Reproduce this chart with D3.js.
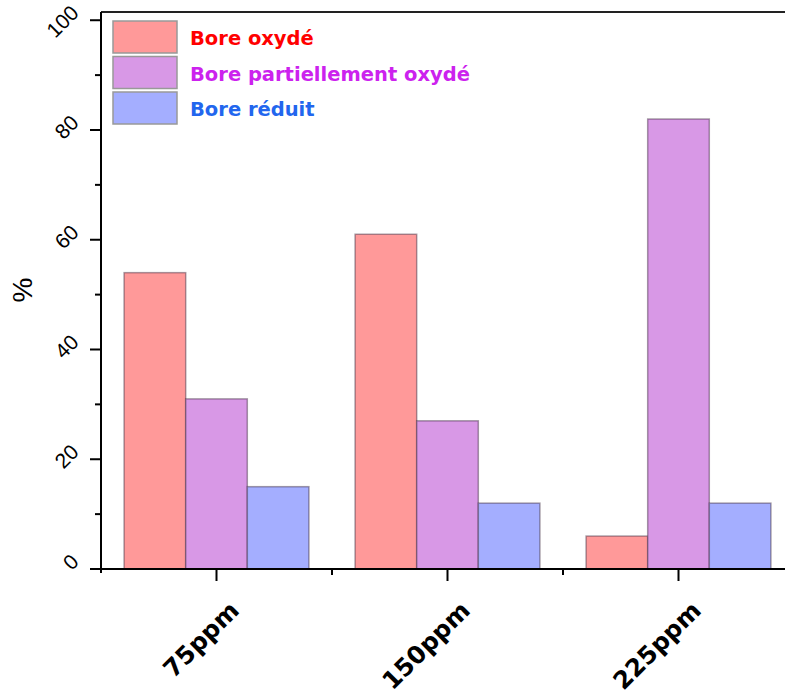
<!DOCTYPE html>
<html lang="fr">
<head>
<meta charset="utf-8">
<title>Bore</title>
<script src="https://d3js.org/d3.v7.min.js"></script>
<style>
  body{margin:0;background:#fff;}
  svg{display:block;}
</style>
</head>
<body>
<div id="chart"></div>
<script>
// data
var categories = ["75ppm", "150ppm", "225ppm"]
var series = ["Bore oxydé", "Bore partiellement oxydé", "Bore réduit"]
var oxyde = [54, 61, 6]
var partiel = [31, 27, 82]
var reduit = [15, 12, 12]
var yTicks = [0, 20, 40, 60, 80, 100]
var yMinor = [10, 30, 50, 70, 90]

var fills = ["#ff9999", "#d898e6", "#a4aeff"]
var textColors = ["#ff0000", "#cc22ee", "#2266ee"]

var w = 785, h = 693
var plotL = 101, plotB = 569, plotT = 12

var values = [oxyde, partiel, reduit]

var svg = d3.select("#chart").append("svg")
  .attr("width", w).attr("height", h)

var x = d3.scaleBand().domain(categories).range([plotL, plotL + 231 * 3]).paddingInner(0).paddingOuter(0)
// each group: 3 bars filling 80% of the category
var xs = d3.scaleBand().domain(series).range([0, x.bandwidth()]).paddingOuter(0.375).paddingInner(0)
var y = d3.scaleLinear().domain([0, 101.5]).range([plotB, plotT])

// top frame line
svg.append("line")
  .attr("x1", plotL).attr("x2", w).attr("y1", plotT).attr("y2", plotT)
  .attr("stroke", "#222").attr("stroke-width", 2)

// bars
var groups = svg.selectAll("g.grp")
  .data(categories)
  .enter().append("g")
  .attr("class", "grp")
  .attr("transform", function(d){ return "translate(" + x(d) + ",0)" })

groups.selectAll("rect")
  .data(function(d, i){
    return series.map(function(s, j){ return {s: s, v: values[j][i], j: j} })
  })
  .enter().append("rect")
  .attr("x", function(d){ return xs(d.s) })
  .attr("y", function(d){ return y(d.v) })
  .attr("width", xs.bandwidth())
  .attr("height", function(d){ return plotB - y(d.v) })
  .attr("fill", function(d){ return fills[d.j] })
  .attr("stroke", "rgba(60,40,60,0.45)")
  .attr("stroke-width", 1.5)

// y axis
var yAxis = svg.append("g")
yAxis.append("line")
  .attr("x1", plotL).attr("x2", plotL).attr("y1", plotT).attr("y2", plotB + 4)
  .attr("stroke", "#000").attr("stroke-width", 2)
yAxis.selectAll("line.maj").data(yTicks).enter().append("line")
  .attr("x1", plotL - 11).attr("x2", plotL)
  .attr("y1", function(d){ return y(d) }).attr("y2", function(d){ return y(d) })
  .attr("stroke", "#000").attr("stroke-width", 2)
yAxis.selectAll("line.min").data(yMinor).enter().append("line")
  .attr("x1", plotL - 6).attr("x2", plotL)
  .attr("y1", function(d){ return y(d) }).attr("y2", function(d){ return y(d) })
  .attr("stroke", "#000").attr("stroke-width", 2)
yAxis.selectAll("text").data(yTicks).enter().append("text")
  .attr("transform", function(d){ return "translate(80," + (y(d) - 6) + ") rotate(-45)" })
  .attr("text-anchor", "end")
  .attr("font-family", "Liberation Sans, Arial, sans-serif")
  .attr("font-size", 21)
  .attr("fill", "#000")
  .text(function(d){ return d })

svg.append("text")
  .attr("transform", "translate(32,290) rotate(-90)")
  .attr("text-anchor", "middle")
  .attr("font-family", "Liberation Sans, Arial, sans-serif")
  .attr("font-size", 28)
  .text("%")

// x axis
var xAxis = svg.append("g")
xAxis.append("line")
  .attr("x1", plotL - 1).attr("x2", w).attr("y1", plotB).attr("y2", plotB)
  .attr("stroke", "#000").attr("stroke-width", 2)
xAxis.selectAll("line.maj").data(categories).enter().append("line")
  .attr("x1", function(d){ return x(d) + x.bandwidth() / 2 })
  .attr("x2", function(d){ return x(d) + x.bandwidth() / 2 })
  .attr("y1", plotB).attr("y2", plotB + 12)
  .attr("stroke", "#000").attr("stroke-width", 2)
xAxis.selectAll("line.min").data(categories.slice(1)).enter().append("line")
  .attr("x1", function(d){ return x(d) })
  .attr("x2", function(d){ return x(d) })
  .attr("y1", plotB).attr("y2", plotB + 6)
  .attr("stroke", "#000").attr("stroke-width", 2)
xAxis.selectAll("text").data(categories).enter().append("text")
  .attr("transform", function(d){ return "translate(" + (x(d) + x.bandwidth() / 2 + 24) + ",612) rotate(-45)" })
  .attr("text-anchor", "end")
  .attr("font-family", "DejaVu Sans, Verdana, sans-serif")
  .attr("font-weight", "bold")
  .attr("font-size", 24.5)
  .attr("fill", "#000")
  .text(function(d){ return d })

// legend
var legend = svg.append("g").attr("transform", "translate(113,21)")
var items = legend.selectAll("g").data(series).enter().append("g")
  .attr("transform", function(d, i){ return "translate(0," + (i * 35.5) + ")" })
items.append("rect")
  .attr("width", 64).attr("height", 32)
  .attr("fill", function(d, i){ return fills[i] })
  .attr("stroke", "#999").attr("stroke-width", 1.5)
items.append("text")
  .attr("x", 77).attr("y", 24)
  .attr("font-family", "DejaVu Sans, Verdana, sans-serif")
  .attr("font-weight", "bold")
  .attr("font-size", 19.5)
  .attr("fill", function(d, i){ return textColors[i] })
  .text(function(d){ return d })
</script>
</body>
</html>
